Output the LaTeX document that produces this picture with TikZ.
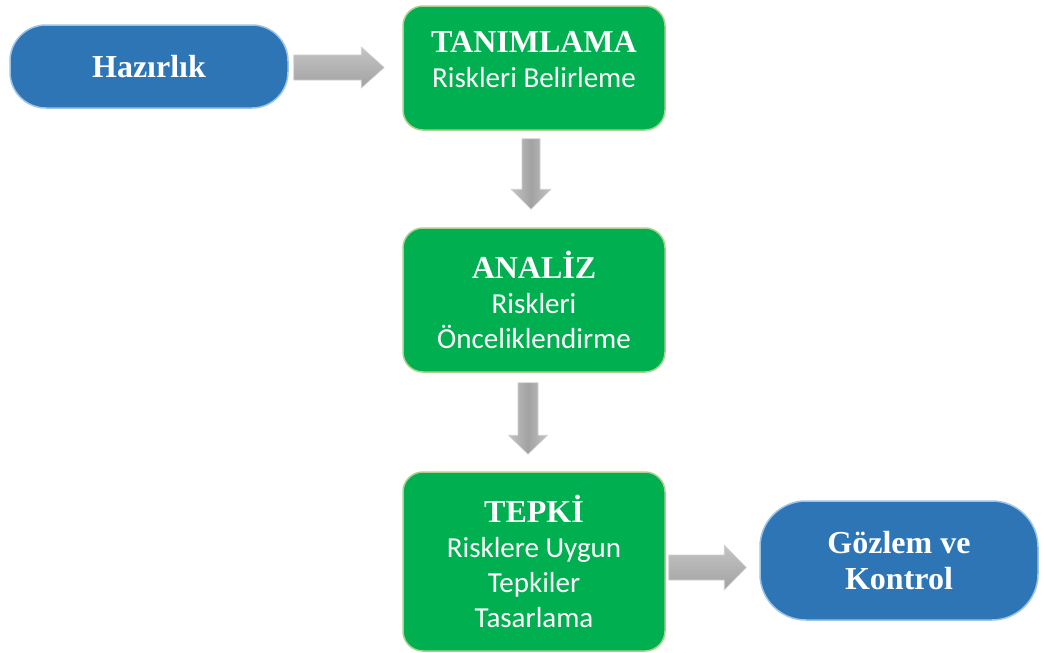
\documentclass[tikz,border=0pt]{standalone}
\usepackage{fontspec}
\setmainfont{Liberation Serif}
\newfontfamily\bodyfont{Carlito}
\usetikzlibrary{calc}
\definecolor{stageblue}{HTML}{2E75B6}
\definecolor{stageblueedge}{HTML}{9DC3E6}
\definecolor{stagegreen}{HTML}{00B050}
\definecolor{stagegreenedge}{HTML}{A9D18E}
\definecolor{arrowlight}{HTML}{C4C4C4}
\definecolor{arrowdark}{HTML}{A2A2A2}
\definecolor{arrowedge}{HTML}{CFCFCF}
\tikzset{
  stagebox/.style={draw=stagegreenedge, line width=1.5pt, fill=stagegreen,
    rounded corners=20pt, minimum width=262pt, text=white, align=center,
    inner sep=0pt, font=\bodyfont\fontsize{29}{35}\selectfont},
  endbox/.style={draw=stageblueedge, line width=1.5pt, fill=stageblue,
    minimum width=278pt, text=white, align=center, inner sep=0pt,
    font=\fontsize{32}{36}\selectfont\bfseries},
  hflow/.style={top color=arrowlight, bottom color=arrowdark, draw=arrowedge, line width=0.6pt},
  vflow/.style={left color=arrowlight, right color=arrowlight, middle color=arrowdark, draw=arrowedge, line width=0.6pt}
}
\newcommand{\heading}[1]{{\fontsize{32}{35}\selectfont\rmfamily\bfseries #1}}
\begin{document}
\begin{tikzpicture}[x=1pt,y=-1pt]
\useasboundingbox (0,0) rectangle (1045,653);

% stages
\node[endbox, minimum height=83pt, rounded corners=36pt] (haz) at (149,66.5) {Hazırlık};
\node[stagebox, minimum height=124pt] (tan) at (534,68) {};
\node[text=white, align=center, font=\bodyfont\fontsize{29}{35}\selectfont] (tantxt) at (534,60)
  {\heading{TANIMLAMA}\\Riskleri Belirleme};
\node[stagebox, minimum height=144pt] (ana) at (534,300)
  {\heading{ANALİZ}\\Riskleri\\Önceliklendirme};
\node[stagebox, minimum height=179pt] (tep) at (534,561.5)
  {\heading{TEPKİ}\\Risklere Uygun\\Tepkiler\\Tasarlama};
\node[endbox, minimum height=119pt, rounded corners=46pt] (goz) at (899,560.5)
  {Gözlem ve\\Kontrol};

% block arrows between stages
\path[hflow] let \p1=($(haz.east)+(5,1)$), \p2=($(tan.west)+(-18,0)$) in
  (\x1,\y1+12.5pt) -- (\x2-23pt,\y1+12.5pt) -- (\x2-23pt,\y1+20.5pt) -- (\x2,\y1)
  -- (\x2-23pt,\y1-20.5pt) -- (\x2-23pt,\y1-12.5pt) -- (\x1,\y1-12.5pt) -- cycle;

\path[vflow] let \p1=($(tan.south)+(-3,8)$), \p2=($(ana.north)+(-3,-18)$) in
  (\x1-9pt,\y1) -- (\x1-9pt,\y2+20pt) -- (\x1-20pt,\y2+20pt) -- (\x1,\y2)
  -- (\x1+20pt,\y2+20pt) -- (\x1+9pt,\y2+20pt) -- (\x1+9pt,\y1) -- cycle;

\path[vflow] let \p1=($(ana.south)+(-6,10)$), \p2=($(tep.north)+(-6,-17)$) in
  (\x1-10pt,\y1) -- (\x1-10pt,\y2+19pt) -- (\x1-19.5pt,\y2+19pt) -- (\x1,\y2)
  -- (\x1+19.5pt,\y2+19pt) -- (\x1+10pt,\y2+19pt) -- (\x1+10pt,\y1) -- cycle;

\path[hflow] let \p1=($(tep.east)+(3,6)$), \p2=($(goz.west)+(-13,0)$) in
  (\x1,\y1+12.5pt) -- (\x2-22pt,\y1+12.5pt) -- (\x2-22pt,\y1+22.5pt) -- (\x2,\y1)
  -- (\x2-22pt,\y1-22.5pt) -- (\x2-22pt,\y1-12.5pt) -- (\x1,\y1-12.5pt) -- cycle;
\end{tikzpicture}
\end{document}
